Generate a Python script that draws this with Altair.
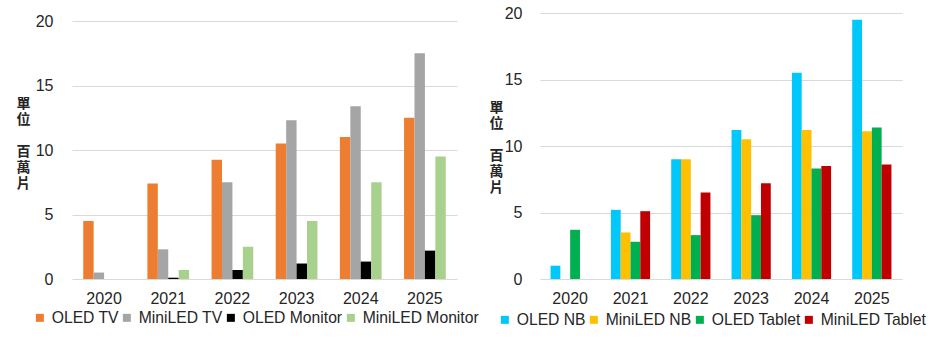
import altair as alt
import pandas as pd

years = ["2020", "2021", "2022", "2023", "2024", "2025"]

left_series = ["OLED TV", "MiniLED TV", "OLED Monitor", "MiniLED Monitor"]
left_colors = ["#ED7D31", "#A5A5A5", "#000000", "#A9D18E"]
oled_tv = [4.5, 7.4, 9.25, 10.5, 11.0, 12.5]
miniled_tv = [0.5, 2.3, 7.5, 12.3, 13.4, 17.5]
oled_monitor = [0, 0.1, 0.7, 1.2, 1.35, 2.2]
miniled_monitor = [0, 0.7, 2.5, 4.5, 7.5, 9.5]

right_series = ["OLED NB", "MiniLED NB", "OLED Tablet", "MiniLED Tablet"]
right_colors = ["#00C8FA", "#FFC000", "#00B050", "#C00000"]
oled_nb = [1.0, 5.2, 9.0, 11.2, 15.5, 19.5]
miniled_nb = [0, 3.5, 9.0, 10.5, 11.2, 11.1]
oled_tablet = [3.7, 2.8, 3.3, 4.8, 8.3, 11.4]
miniled_tablet = [0, 5.1, 6.5, 7.2, 8.5, 8.6]

y_ticks = [0, 5, 10, 15, 20]
y_title = ["單", "位", "\u200b", "百", "萬", "片"]

FONT = "Liberation Sans"
CJK = "Noto Sans CJK TC"
TXT = "#262626"


def make_df(series, values):
    rows = []
    for s, vals in zip(series, values):
        for y, v in zip(years, vals):
            rows.append({"year": y, "series": s, "value": v})
    return pd.DataFrame(rows)


left_df = make_df(left_series, [oled_tv, miniled_tv, oled_monitor, miniled_monitor])
right_df = make_df(right_series, [oled_nb, miniled_nb, oled_tablet, miniled_tablet])


def panel(df, series, colors, width, height, ymax, tx, ty, lx, ly, lpad):
    return alt.Chart(df).mark_bar().encode(
        x=alt.X("year:N", sort=years,
                scale=alt.Scale(paddingInner=0.35, paddingOuter=0.175),
                axis=alt.Axis(title=None, labelAngle=0, ticks=False, domain=False,
                              labelPadding=11, labelFontSize=16, labelFont=FONT,
                              labelColor=TXT, grid=False)),
        xOffset=alt.XOffset("series:N", sort=series,
                            scale=alt.Scale(domain=series, paddingInner=0, paddingOuter=0)),
        y=alt.Y("value:Q",
                scale=alt.Scale(domain=[0, ymax], nice=False, zero=True),
                axis=alt.Axis(values=y_ticks, title=y_title, titleAngle=0,
                              titleX=tx, titleY=ty, titleAlign="center",
                              titleBaseline="top", titleFont=CJK, titleFontSize=14,
                              titleFontWeight="bold", titleLineHeight=16, titleColor=TXT,
                              labelPadding=lpad, labelFontSize=16, labelFont=FONT,
                              labelColor=TXT, ticks=False, domain=False,
                              gridColor="#D9D9D9", gridWidth=1)),
        color=alt.Color("series:N", sort=series,
                        scale=alt.Scale(domain=series, range=colors),
                        legend=alt.Legend(title=None, orient="none", direction="horizontal",
                                          legendX=lx, legendY=ly, padding=0,
                                          symbolType="square", symbolSize=64,
                                          symbolStrokeWidth=0, labelOffset=4,
                                          columnPadding=0, gridAlign="none",
                                          labelFontSize=15.7, labelFont=FONT,
                                          labelColor=TXT)),
    ).properties(width=width, height=height)


left = panel(left_df, left_series, left_colors, 385, 266, 20 * 266 / 258,
             -49, 83, -40, 297, 19)
right = panel(right_df, right_series, right_colors, 362, 266, 20.0,
              -44, 87, -43, 299, 18)

chart = alt.hconcat(left, right, spacing=83, bounds="flush").resolve_scale(
    color="independent", x="independent", y="independent", xOffset="independent"
).resolve_legend(color="independent").properties(
    padding={"left": 16, "top": 5, "right": 0, "bottom": 5},
    background="white",
).configure_view(strokeWidth=0)

chart.save("out.html", embed_options={"renderer": "svg", "actions": False})
